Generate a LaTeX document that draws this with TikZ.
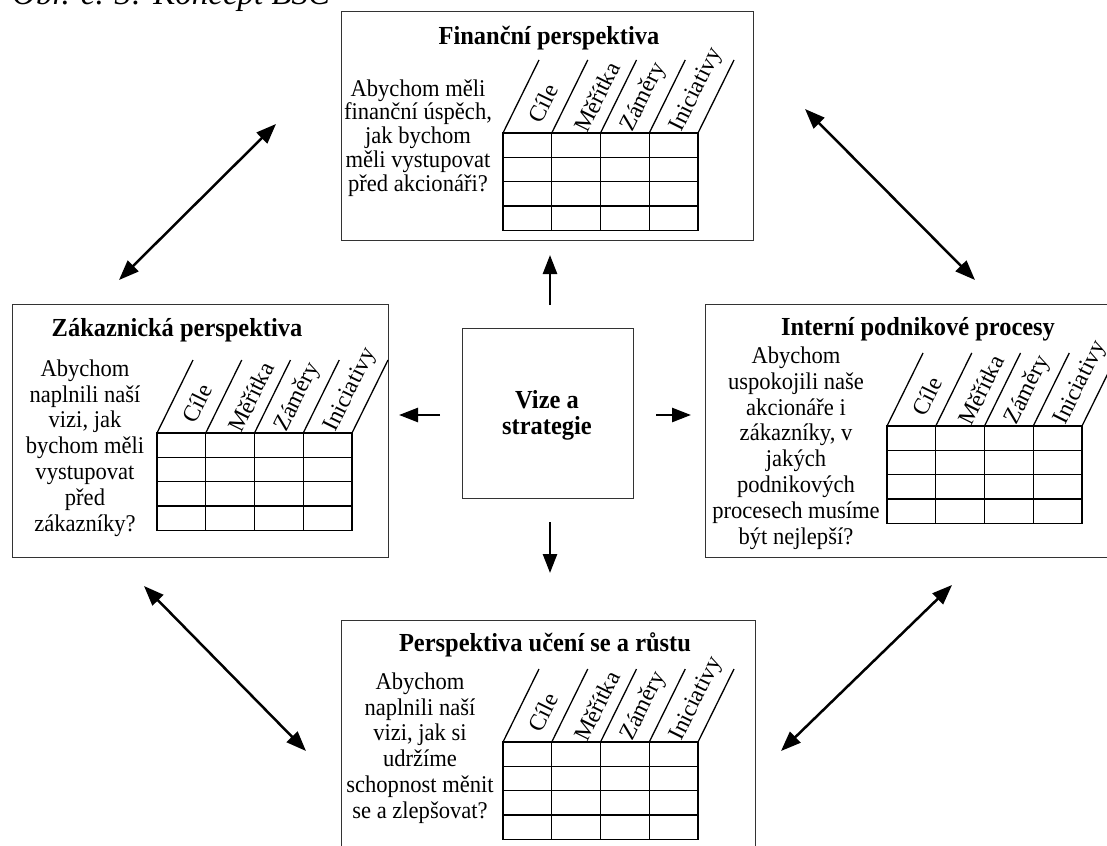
\documentclass[tikz,border=0pt]{standalone}
\usepackage{fontspec}
\setmainfont{Liberation Serif}
\usetikzlibrary{arrows.meta}

\tikzset{
  panel/.style={draw=black!80, line width=1pt, fill=white, inner sep=0pt, outer sep=0pt},
  ttl/.style={font=\bfseries\fontsize{26}{28}\selectfont, inner sep=0pt, xscale=0.94},
  qtext/.style={align=center, inner sep=0pt, xscale=0.94, font=\fontsize{24}{25.8}\selectfont},
  qtight/.style={qtext, font=\fontsize{24}{23.8}\selectfont},
  clabel/.style={rotate=63.7, inner sep=0pt, font=\fontsize{23.5}{26}\selectfont},
  gridline/.style={line width=1.3pt},
  sarrow/.style={line width=2.6pt, -{Triangle[length=19pt,width=14pt]}},
  darrow/.style={line width=2.5pt, {Triangle[length=20pt,width=15pt]}-{Triangle[length=20pt,width=15pt]}},
}

% Scorecard grid: 4 columns x 4 rows with slanted column headings.
% #1,#2 = top-left corner of the grid, #3 = name prefix
\newcommand\bscgrid[3]{%
  \begin{scope}[shift={(#1,#2)}]
    \draw[gridline] (0,0) rectangle (195,97.2);
    \foreach \i in {1,2,3} \draw[gridline] (48.75*\i,0) -- ++(0,97.2);
    \foreach \j in {1,2,3} \draw[gridline] (0,24.3*\j) -- ++(195,0);
    \foreach \i in {0,...,4} \draw[gridline] (48.75*\i,0) -- ++(36,-73);
    \node[clabel] (#3-c1) at (40,-30) {Cíle};
    \node[clabel] (#3-c2) at (94,-36) {Měřítka};
    \node[clabel] (#3-c3) at (141,-36) {Záměry};
    \node[clabel] (#3-c4) at (194,-43) {Iniciativy};
  \end{scope}}

\begin{document}
\begin{tikzpicture}[x=1pt,y=-1pt]
  \useasboundingbox (0,0) rectangle (1107,845);
  \clip (0,0) rectangle (1107,845);

  % caption line, mostly above the page edge
  \node[anchor=base west, inner sep=0pt, font=\itshape\fontsize{33}{36}\selectfont] (cap) at (12,5) {Obr. č. 3: Koncept BSC};

  % ---- financial perspective (top)
  \node[panel, anchor=north west, minimum width=412pt, minimum height=228pt] (fin) at (341,12) {};
  \node[ttl] (fin-t) at (549,38) {Finanční perspektiva};
  \node[qtight] (fin-q) at (418,138) {Abychom měli\\finanční úspěch,\\jak bychom\\měli vystupovat\\před akcionáři?};
  \bscgrid{503}{133}{fin}

  % ---- customer perspective (left)
  \node[panel, anchor=north west, minimum width=376pt, minimum height=253pt] (cus) at (12,304) {};
  \node[ttl] (cus-t) at (177,330) {Zákaznická perspektiva};
  \node[qtext] (cus-q) at (85,448) {Abychom\\naplnili naší\\vizi, jak\\bychom měli\\vystupovat\\před\\zákazníky?};
  \bscgrid{157}{433}{cus}

  % ---- internal processes (right)
  \node[panel, anchor=north west, minimum width=430pt, minimum height=253pt] (int) at (705,304) {};
  \node[ttl] (int-t) at (918,329) {Interní podnikové procesy};
  \node[qtext] (int-q) at (796,448) {Abychom\\uspokojili naše\\akcionáře i\\zákazníky, v\\jakých\\podnikových\\procesech musíme\\být nejlepší?};
  \bscgrid{887}{426}{int}

  % ---- learning and growth (bottom)
  \node[panel, anchor=north west, minimum width=414pt, minimum height=260pt] (lrn) at (341,620) {};
  \node[ttl] (lrn-t) at (545,645) {Perspektiva učení se a růstu};
  \node[qtext] (lrn-q) at (420,748) {Abychom\\naplnili naší\\vizi, jak si\\udržíme\\schopnost měnit\\se a zlepšovat?};
  \bscgrid{503}{742}{lrn}

  % ---- vision and strategy (centre)
  \node[panel, anchor=north west, minimum width=171pt, minimum height=170pt] (vis) at (462,328) {};
  \node[ttl, align=center, font=\bfseries\fontsize{26}{26}\selectfont] (vis-t) at (547,415) {Vize a\\strategie};

  % arrow end points
  \coordinate (upA) at (550,305);   \coordinate (upB) at (550,255);
  \coordinate (dnA) at (550,522);   \coordinate (dnB) at (550,573);
  \coordinate (lfA) at (440,415);   \coordinate (lfB) at (399,415);
  \coordinate (rtA) at (656,415);   \coordinate (rtB) at (691,415);
  \coordinate (tlA) at (119,280);   \coordinate (tlB) at (276,124);
  \coordinate (trA) at (805,109);   \coordinate (trB) at (975,280);
  \coordinate (blA) at (144,586);   \coordinate (blB) at (306,751);
  \coordinate (brA) at (952,585);   \coordinate (brB) at (781,751);

  \draw[sarrow] (upA) -- (upB);
  \draw[sarrow] (dnA) -- (dnB);
  \draw[sarrow] (lfA) -- (lfB);
  \draw[sarrow] (rtA) -- (rtB);

  \draw[darrow] (tlA) -- (tlB);
  \draw[darrow] (trA) -- (trB);
  \draw[darrow] (blA) -- (blB);
  \draw[darrow] (brA) -- (brB);
\end{tikzpicture}
\end{document}
